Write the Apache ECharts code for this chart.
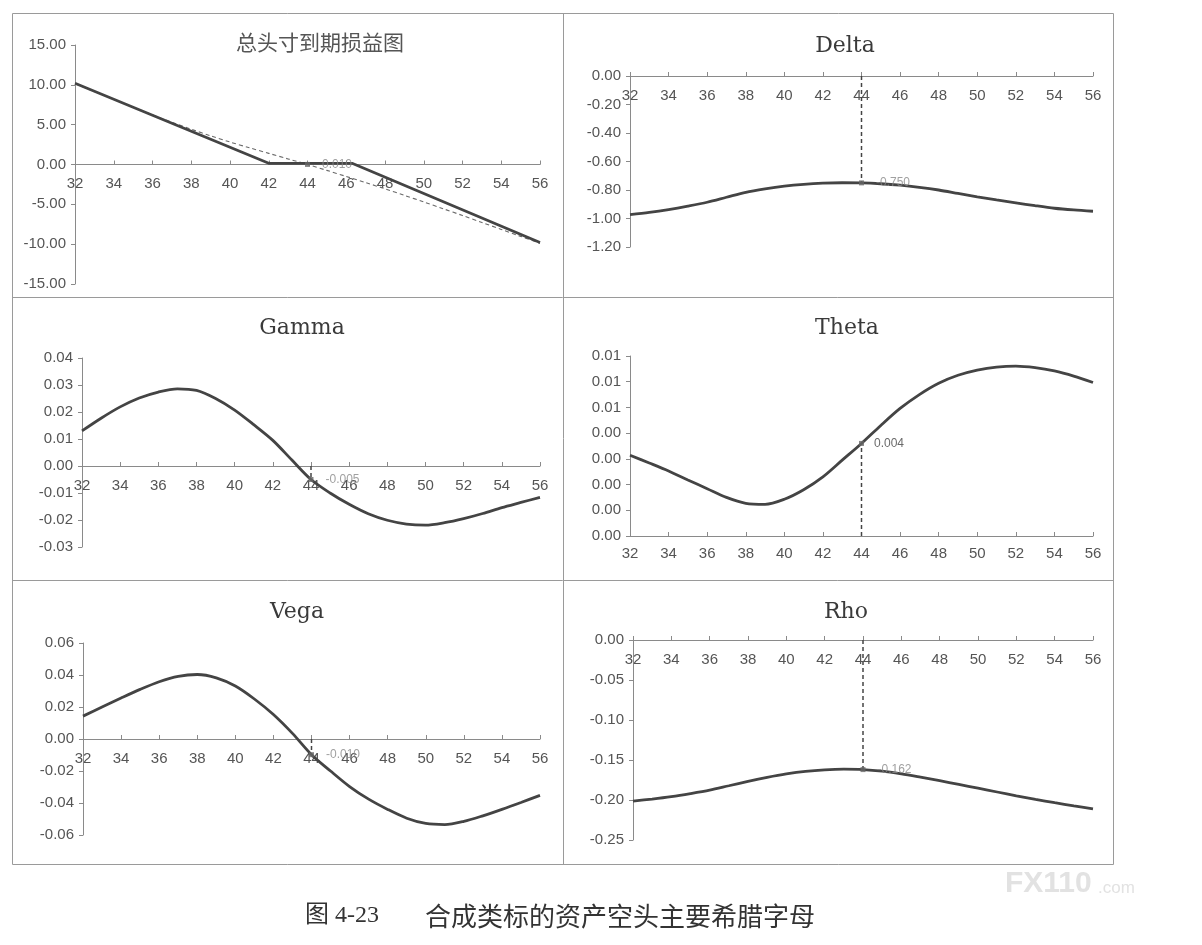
<!DOCTYPE html>
<html>
<head>
<meta charset="utf-8">
<script src="https://cdn.jsdelivr.net/npm/echarts@6/dist/echarts.min.js"></script>
<style>
html,body{margin:0;padding:0;background:#fff;}
#main{width:1202px;height:945px;}
</style>
</head>
<body>
<div id="main"></div>
<script>
// ---- data ----
const prices = [32,33,34,35,36,37,38,39,40,41,42,43,44,45,46,47,48,49,50,51,52,53,54,55,56];
const currentPrice = 44;
const expiryPrices = [32,42,46.3,56];
const expiryPayoff = [10.2,0.15,0.15,-9.8];
const currentPayoff = [10.15,9.17,8.18,7.2,6.22,5.3,4.42,3.6,2.82,2.1,1.4,0.7,0.010,-0.74,-1.5,-2.27,-3.05,-3.87,-4.7,-5.55,-6.4,-7.27,-8.15,-9.02,-9.9];
const delta = [-0.973,-0.957,-0.937,-0.913,-0.886,-0.851,-0.816,-0.792,-0.773,-0.760,-0.752,-0.749,-0.750,-0.756,-0.766,-0.781,-0.800,-0.824,-0.848,-0.870,-0.890,-0.910,-0.928,-0.940,-0.949];
const gamma = [0.0130,0.0177,0.0219,0.0252,0.0274,0.0286,0.0280,0.0250,0.0207,0.0153,0.0095,0.0022,-0.0050,-0.0100,-0.0142,-0.0177,-0.0201,-0.0215,-0.0219,-0.0210,-0.0195,-0.0176,-0.0154,-0.0135,-0.0116];
const theta = [0.00314,0.00284,0.00253,0.00218,0.00184,0.00150,0.00127,0.00123,0.00143,0.00180,0.00230,0.00295,0.0036,0.00430,0.00496,0.00550,0.00594,0.00625,0.00645,0.00657,0.00661,0.00655,0.00642,0.00622,0.00597];
const vega = [0.0143,0.0200,0.0256,0.0310,0.0358,0.0392,0.0403,0.0382,0.0331,0.0250,0.0153,0.0035,-0.0098,-0.0200,-0.0297,-0.0376,-0.0440,-0.0495,-0.0528,-0.0535,-0.0515,-0.0480,-0.0440,-0.0397,-0.0352];
const rho = [-0.2013,-0.1988,-0.1958,-0.1920,-0.1877,-0.1822,-0.1767,-0.1717,-0.1674,-0.1642,-0.1623,-0.1615,-0.162,-0.1640,-0.1674,-0.1715,-0.1758,-0.1805,-0.1852,-0.1900,-0.1949,-0.1993,-0.2034,-0.2073,-0.2110];
const panelTitles = ['总头寸到期损益图','Delta','Gamma','Theta','Vega','Rho'];
const yMins = [-15,-1.2,-0.03,0,-0.06,-0.25];
const yMaxs = [15,0,0.04,0.007,0.06,0];
const yIntervals = [5,0.2,0.01,0.001,0.02,0.05];
const captionNo = '图 4-23';
const captionText = '合成类标的资产空头主要希腊字母';

// ---- layout ----
const grids = [
  {left:75, top:45, width:465, height:239},
  {left:630, top:76, width:463, height:171},
  {left:82, top:358, width:458, height:189},
  {left:630, top:356, width:463, height:180},
  {left:83, top:643, width:457, height:192},
  {left:633, top:640, width:460, height:200}
];
const titlePos = [[320,42],[845,46],[302,328],[847,328],[297,612],[846,612]];

const chart = echarts.init(document.getElementById('main'));
const axisColor = '#8a8a8a';
const labelColor = '#555';
const lineColor = '#444';
const tickFont = 'Liberation Sans, Arial';

const pairs = (xs, ys) => xs.map((x,i)=>[x, ys[i]]);
const idx = prices.indexOf(currentPrice);

const xAxes = grids.map((g,i)=>({
  type:'value', gridIndex:i, min:32, max:56, interval:2,
  offset: -((0 - yMins[i]) / (yMaxs[i] - yMins[i])) * g.height,
  axisLine:{onZero:false, lineStyle:{color:axisColor, width:1}},
  axisTick:{inside:true, length:4, lineStyle:{color:axisColor}},
  axisLabel:{color:labelColor, fontSize:15, fontFamily:tickFont, margin:(i===3?10:12)},
  splitLine:{show:false}
}));
const yAxes = grids.map((g,i)=>({
  type:'value', gridIndex:i, min:yMins[i], max:yMaxs[i], interval:yIntervals[i],
  axisLine:{show:true, onZero:false, lineStyle:{color:axisColor, width:1}},
  axisTick:{show:true, length:4, lineStyle:{color:axisColor}},
  axisLabel:{color:labelColor, fontSize:15, fontFamily:tickFont, margin:9,
    formatter:(v)=>(Math.abs(v)<1e-12?0:v+ (v>=0?1e-12:-1e-12)).toFixed(2)},
  splitLine:{show:false}
}));

const greekSeries = [currentPayoff, delta, gamma, theta, vega, rho];
const series = [];
// expiry payoff
series.push({type:'line', xAxisIndex:0, yAxisIndex:0, data:pairs(expiryPrices, expiryPayoff),
  showSymbol:false, lineStyle:{color:lineColor, width:2.8}, z:3, silent:true});
// current payoff (dashed)
series.push({type:'line', xAxisIndex:0, yAxisIndex:0, data:pairs(prices, currentPayoff), smooth:0.3,
  showSymbol:false, lineStyle:{color:'#6a6a6a', width:1.1, type:[4,3]}, z:2, silent:true});
for (let i=1;i<6;i++){
  series.push({type:'line', xAxisIndex:i, yAxisIndex:i, data:pairs(prices, greekSeries[i]), smooth:0.3,
    showSymbol:false, lineStyle:{color:lineColor, width:2.8}, z:3, silent:true});
}
for (let i=0;i<6;i++){
  const v = greekSeries[i][idx];
  if (i>0){
    series.push({type:'line', xAxisIndex:i, yAxisIndex:i, data:[[currentPrice,0],[currentPrice,v]],
      showSymbol:false, lineStyle:{color:'#444', width:1.5, type:[4,3]}, z:4, silent:true});
  }
  series.push({type:'scatter', xAxisIndex:i, yAxisIndex:i, data:[[currentPrice,v]],
    symbol:'rect', symbolSize:5, itemStyle:{color:'#666'}, z:5, silent:true,
    label:{show:true, position:'right', distance:(i===3?10:12), color:(i===3?'#444':'#888'), fontSize:12,
      fontFamily:tickFont,
      formatter:(p)=>p.value[1].toFixed(3)}});
}

const graphics = [];
// frame
graphics.push({type:'rect', shape:{x:12.5,y:13.5,width:1101,height:851}, style:{fill:null, stroke:'#9a9a9a', lineWidth:1}, silent:true});
graphics.push({type:'line', shape:{x1:563.5,y1:13,x2:563.5,y2:864}, style:{stroke:'#9a9a9a', lineWidth:1}, silent:true});
graphics.push({type:'line', shape:{x1:12,y1:297.5,x2:1113,y2:297.5}, style:{stroke:'#9a9a9a', lineWidth:1}, silent:true});
graphics.push({type:'line', shape:{x1:12,y1:580.5,x2:1113,y2:580.5}, style:{stroke:'#9a9a9a', lineWidth:1}, silent:true});
panelTitles.forEach((t,i)=>{
  const cjk = i===0;
  graphics.push({type:'text', x:titlePos[i][0], y:titlePos[i][1], silent:true,
    style:{text:t, textAlign:'center', textVerticalAlign:'middle',
      fontFamily: cjk ? 'Noto Sans CJK SC' : 'DejaVu Serif',
      fontSize: cjk ? 21 : 22, fill: cjk ? '#555' : '#3a3a3a'}});
});
graphics.push({type:'text', x:305, y:916, silent:true,
  style:{text:captionNo, textAlign:'left', textVerticalAlign:'middle', fontFamily:'Liberation Serif, Noto Sans CJK SC', fontSize:24, fill:'#333'}});
graphics.push({type:'text', x:425, y:916, silent:true,
  style:{text:captionText, textAlign:'left', textVerticalAlign:'middle', fontFamily:'Noto Sans CJK SC', fontSize:26, fill:'#333'}});
// watermark
graphics.push({type:'text', x:1005, y:884, silent:true,
  style:{text:'FX110', textAlign:'left', textVerticalAlign:'middle', fontFamily:'Liberation Sans', fontWeight:'bold', fontSize:30, fill:'#e2e2e2'}});
graphics.push({type:'text', x:1098, y:888, silent:true,
  style:{text:'.com', textAlign:'left', textVerticalAlign:'middle', fontFamily:'Liberation Sans', fontSize:17, fill:'#e2e2e2'}});

chart.setOption({
  animation:false,
  backgroundColor:'#fff',
  grid: grids.map(g=>Object.assign({containLabel:false}, g)),
  xAxis: xAxes,
  yAxis: yAxes,
  series: series,
  graphic: graphics
});
</script>
</body>
</html>
